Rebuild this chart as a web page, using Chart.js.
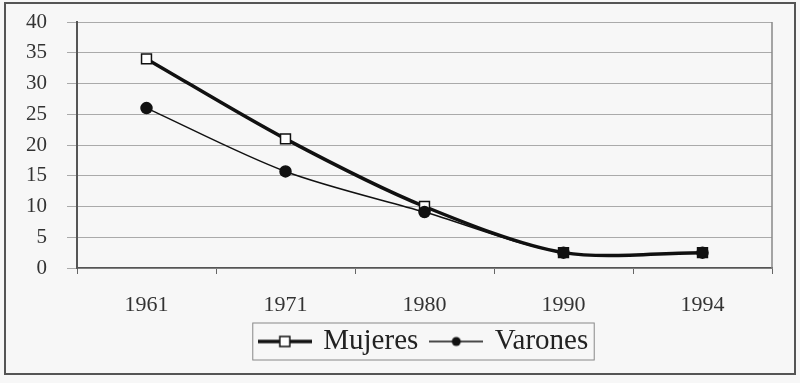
<!DOCTYPE html>
<html>
<head>
<meta charset="utf-8">
<script src="https://cdn.jsdelivr.net/npm/chart.js@4.4.0/dist/chart.umd.min.js"></script>
<style>
  html, body { margin: 0; padding: 0; background: #f7f7f7; }
  canvas { display: block; }
</style>
</head>
<body>
<canvas id="chart" width="800" height="383"></canvas>
<script>
// values
const years = ["1961", "1971", "1980", "1990", "1994"];
const mujeres = [34, 21, 10, 2.5, 2.5];
const varones = [26, 15.7, 9.1, 2.5, 2.5];
const yMin = 0;
const yMax = 40;
const yStep = 5;

const serif = "'Liberation Serif', 'DejaVu Serif', serif";

// small canvases used as legend symbols (line with marker)
function legendIcon(kind) {
  const c = document.createElement("canvas");
  c.width = 54;
  c.height = 14;
  const g = c.getContext("2d");
  g.strokeStyle = "#111";
  g.lineWidth = kind === "square" ? 3.5 : 1.5;
  g.beginPath();
  g.moveTo(0, 7);
  g.lineTo(54, 7);
  g.stroke();
  if (kind === "square") {
    g.fillStyle = "#fff";
    g.fillRect(22, 2, 10, 10);
    g.lineWidth = 1.5;
    g.strokeRect(22, 2, 10, 10);
  } else {
    g.fillStyle = "#111";
    g.beginPath();
    g.arc(27, 7, 4.5, 0, Math.PI * 2);
    g.fill();
  }
  return c;
}

const frame = {
  id: "frame",
  beforeDraw(chart) {
    const { ctx, width, height } = chart;
    ctx.save();
    ctx.fillStyle = "#f7f7f7";
    ctx.fillRect(0, 0, width, height);
    ctx.restore();
  },
  afterDraw(chart) {
    const { ctx, chartArea } = chart;
    ctx.save();
    // outer border of the picture
    ctx.strokeStyle = "#555";
    ctx.lineWidth = 2;
    ctx.strokeRect(5, 3, 790, 371);
    // right edge of plot area
    ctx.strokeStyle = "#888";
    ctx.lineWidth = 1.5;
    ctx.beginPath();
    ctx.moveTo(chartArea.right, chartArea.top);
    ctx.lineTo(chartArea.right, chartArea.bottom);
    ctx.stroke();
    // box round the legend
    const boxes = chart.legend.legendHitBoxes;
    if (boxes && boxes.length) {
      const l = Math.min(...boxes.map(b => b.left)) - 8;
      const r = Math.max(...boxes.map(b => b.left + b.width)) + 6;
      const t = Math.min(...boxes.map(b => b.top)) - 4;
      const btm = Math.max(...boxes.map(b => b.top + b.height)) + 4;
      ctx.strokeStyle = "#888";
      ctx.lineWidth = 1;
      ctx.strokeRect(l, t, r - l, btm - t);
    }
    ctx.restore();
  }
};

new Chart(document.getElementById("chart"), {
  type: "line",
  data: {
    labels: years,
    datasets: [
      {
        label: "Mujeres",
        data: mujeres,
        borderColor: "#111",
        borderWidth: 3.5,
        tension: 0.3,
        pointStyle: "rect",
        pointRadius: 7,
        pointBackgroundColor: "#fff",
        pointBorderColor: "#111",
        pointBorderWidth: 1.5,
        order: 1,
      },
      {
        label: "Varones",
        data: varones,
        borderColor: "#111",
        borderWidth: 1.5,
        tension: 0.3,
        pointStyle: "circle",
        pointRadius: 5.5,
        pointBackgroundColor: "#111",
        pointBorderColor: "#111",
        order: 0,
      },
    ],
  },
  options: {
    responsive: false,
    animation: false,
    layout: { autoPadding: false, padding: { left: 0, right: 28, top: 22, bottom: 17 } },
    plugins: {
      tooltip: { enabled: false },
      legend: {
        display: true,
        position: "bottom",
        fullSize: false,
        labels: {
          usePointStyle: true,
          pointStyleWidth: 48,
          padding: 14,
          color: "#222",
          font: { family: serif, size: 29 },
          sort: (a, b) => a.datasetIndex - b.datasetIndex,
          generateLabels(chart) {
            return chart.data.datasets.map((ds, i) => ({
              text: ds.label,
              datasetIndex: i,
              pointStyle: legendIcon(i === 0 ? "square" : "circle"),
              fontColor: "#222",
              lineWidth: 0,
              hidden: false,
            }));
          },
        },
      },
    },
    scales: {
      x: {
        offset: true,
        grid: {
          offset: true,
          drawOnChartArea: false,
          drawTicks: true,
          tickLength: 6,
          color: "#666",
        },
        border: { display: true, color: "#555", width: 1.5 },
        ticks: { color: "#333", font: { family: serif, size: 22 }, padding: 18 },
        afterFit(scale) { scale.height = 45; },
      },
      y: {
        min: yMin,
        max: yMax,
        ticks: {
          stepSize: yStep,
          autoSkip: false,
          color: "#333",
          font: { family: serif, size: 21 },
          padding: 20,
        },
        grid: { color: "#aaa", lineWidth: 1, tickLength: 10 },
        border: { display: true, color: "#555", width: 2 },
        afterFit(scale) {
          scale.width = 77;
          // tick padding is otherwise added above the plot as well
          scale.paddingTop = 0;
          scale.paddingBottom = 0;
        },
      },
    },
  },
  plugins: [frame],
});
</script>
</body>
</html>
